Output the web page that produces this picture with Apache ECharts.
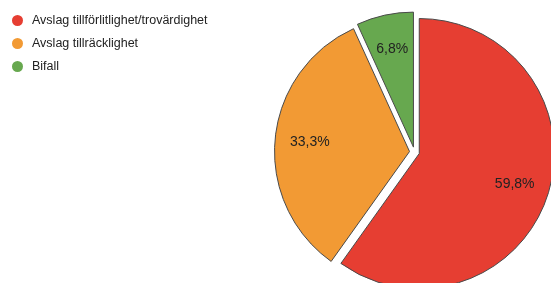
<!DOCTYPE html>
<html lang="sv">
<head>
    <meta charset="UTF-8">
    <title>Avslag / Bifall</title>
    <script src="https://cdn.jsdelivr.net/npm/echarts@6/dist/echarts.min.js"></script>
    <style>
        *{ padding: 0; margin: 0; }
        #chart{ width: 551px; height: 283px; background: #fff; }
    </style>
</head>
<body>
<div id="chart"></div>
<script>
    var categories = ['Avslag tillförlitlighet/trovärdighet', 'Avslag tillräcklighet', 'Bifall'];
    var values = [59.8, 33.3, 6.8];
    var palette = ['#E63E32', '#F29A34', '#67A84F'];

    var pieData = categories.map(function (name, i) {
        return { name: name, value: values[i], selected: true, itemStyle: { color: palette[i] } };
    });
    var labelData = categories.map(function (name, i) {
        return { name: name, value: values[i], selected: true };
    });

    var center = [414.5, 152];
    var R = 135;
    var offset = 5;

    var chart = echarts.init(document.getElementById('chart'));
    chart.setOption({
        backgroundColor: '#ffffff',
        animation: false,
        legend: {
            orient: 'vertical',
            left: 7,
            top: 9,
            icon: 'circle',
            itemWidth: 11,
            itemHeight: 11,
            itemGap: 10,
            itemStyle: { borderWidth: 0 },
            textStyle: {
                fontFamily: 'Liberation Sans, Arial',
                fontSize: 12.5,
                color: '#222',
                padding: [0, 0, 0, 4]
            },
            data: categories
        },
        series: [{
            // slices
            type: 'pie',
            center: center,
            radius: [0, R],
            startAngle: 90,
            selectedMode: 'multiple',
            selectedOffset: offset,
            label: { show: false },
            labelLine: { show: false },
            itemStyle: { borderColor: '#4a4a4a', borderWidth: 1 },
            select: { itemStyle: { borderColor: '#4a4a4a', borderWidth: 1 } },
            emphasis: { disabled: true },
            data: pieData
        }, {
            // labels only: a ring, so the inside label sits at ~0.72 of the radius
            type: 'pie',
            center: center,
            radius: [R * 0.44, R],
            startAngle: 90,
            silent: true,
            selectedMode: 'multiple',
            selectedOffset: offset,
            itemStyle: { color: 'rgba(0,0,0,0)', borderWidth: 0 },
            select: { itemStyle: { color: 'rgba(0,0,0,0)', borderWidth: 0 } },
            label: {
                show: true,
                position: 'inside',
                fontFamily: 'Liberation Sans, Arial',
                fontSize: 14,
                color: '#222',
                formatter: function (p) {
                    return p.value.toFixed(1).replace('.', ',') + '%';
                }
            },
            labelLine: { show: false },
            data: labelData
        }]
    });
</script>
</body>
</html>
